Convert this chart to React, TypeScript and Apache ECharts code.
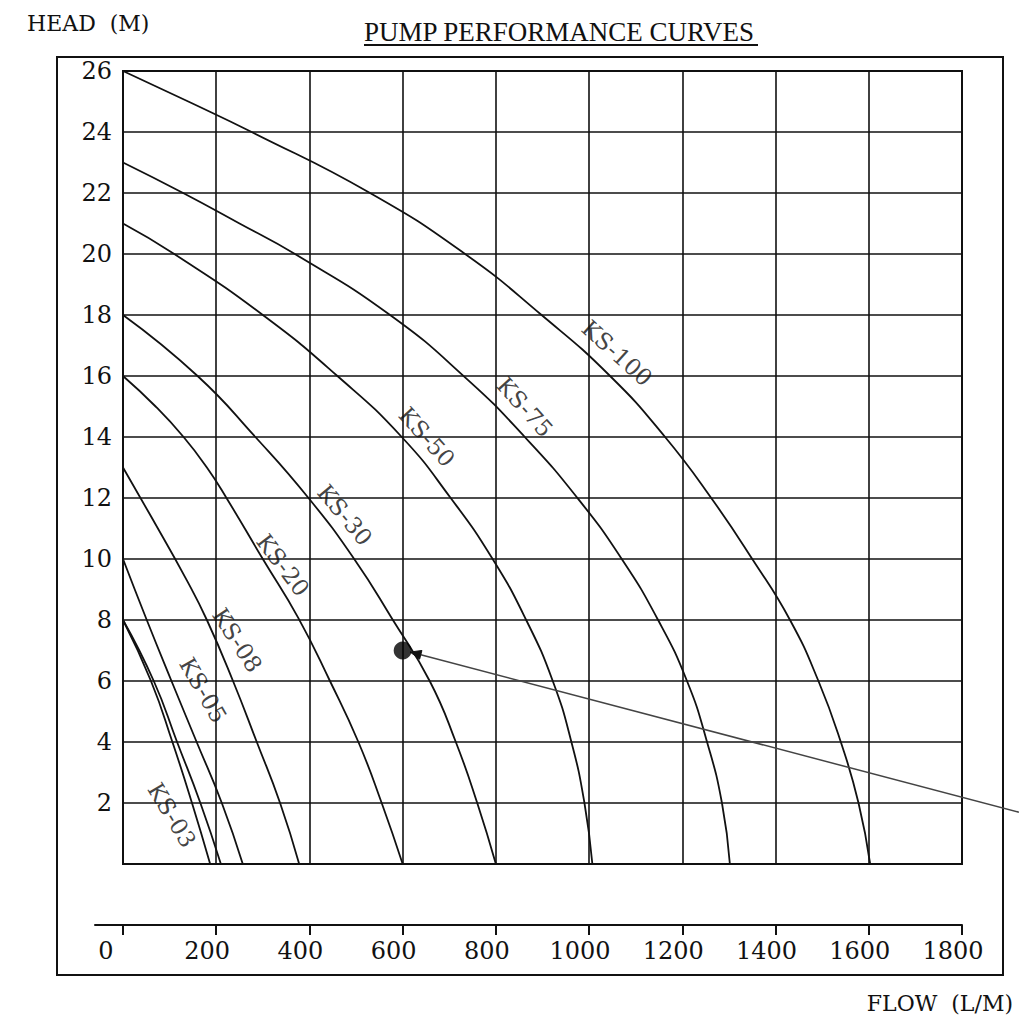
import React, { useEffect, useRef } from "react";
import * as echarts from "echarts";

// ---- data (flow L/M, head M) ----
const FLOW_TICKS = [0, 200, 400, 600, 800, 1000, 1200, 1400, 1600, 1800];

const KS03A = [[0, 8], [60, 6], [106, 4], [148, 2], [187, 0]];
const KS03B = [[0, 8], [66, 6], [116, 4], [166, 2], [210, 0]];
const KS05 = [[0, 10], [51, 8], [104, 6], [158, 4], [212, 2], [257, 0]];
const KS08 = [[0, 13], [60, 11.4], [137, 9.3], [180, 8], [236, 6], [287, 4], [337, 2], [378, 0]];
const KS20 = [[0, 16], [70, 15], [130, 14], [180, 13], [222, 12], [300, 10], [376, 8.07], [444, 6], [505, 4], [555, 2], [600, 0]];
const KS30 = [[0, 18], [160, 16], [284, 14], [398, 12], [496, 10], [579, 8], [658, 6], [714, 4], [760, 2], [800, 0]];
const KS50 = [[0, 21], [110, 20], [300, 18], [460, 16], [598, 14], [703, 12], [793, 10], [865, 8], [922, 6], [962, 4], [990, 2], [1007, 0]];
const KS75 = [[0, 23], [129, 22], [250, 21], [369, 20], [573, 18], [738, 15.9], [862, 14], [975, 12], [1070, 10], [1148, 8], [1210, 6], [1253, 4], [1285, 2], [1302, 0]];
const KS100 = [[0, 26], [140, 25], [276, 24], [530, 22], [734, 20], [898, 18], [1045, 16], [1163, 14], [1262, 12], [1350, 10], [1431, 8], [1492, 6], [1540, 4], [1578, 2], [1603, 0]];

const CURVES = [
  { name: "KS-03", data: KS03A },
  { name: "KS-03b", data: KS03B },
  { name: "KS-05", data: KS05 },
  { name: "KS-08", data: KS08 },
  { name: "KS-20", data: KS20 },
  { name: "KS-30", data: KS30 },
  { name: "KS-50", data: KS50 },
  { name: "KS-75", data: KS75 },
  { name: "KS-100", data: KS100 },
];

// curve labels: text centre (flow, head) and slope angle in degrees
const LABEL_NAMES = ["KS-100", "KS-75", "KS-50", "KS-30", "KS-20", "KS-08", "KS-05", "KS-03"];
const LABEL_POS = [[1060, 16.75], [862, 14.98], [652, 14.0], [476, 11.44], [343, 9.8], [245, 7.34], [172, 5.7], [105, 1.6]];
const LABEL_ANGLE = [42, 48, 48, 50, 53, 57, 60, 59];

const DUTY_POINT = [600, 7];
const ARROW_TIP = [616, 6.95];
const ARROW_TAIL = [1922, 1.7];

const SERIF = "DejaVu Serif";

export default function App() {
  const ref = useRef<HTMLDivElement>(null);

  useEffect(() => {
    if (!ref.current) return;
    const chart = echarts.init(ref.current, null, { renderer: "svg" });

    const curveSeries = CURVES.map((c) => ({
      name: c.name,
      type: "line",
      xAxisIndex: 0,
      yAxisIndex: 0,
      data: c.data,
      smooth: 0.5,
      symbol: "none",
      clip: false,
      lineStyle: { color: "#111", width: 1.8 },
      z: 3,
    }));

    const labelData = LABEL_NAMES.map((n, i) => ({
      name: n,
      value: LABEL_POS[i],
      label: { rotate: -LABEL_ANGLE[i] },
    }));

    const baseGraphic: any[] = [
      {
        type: "rect",
        shape: { x: 57, y: 57, width: 946, height: 918 },
        style: { fill: "transparent", stroke: "#111", lineWidth: 2 },
        z: 1,
      },
      {
        type: "line",
        shape: { x1: 364, y1: 45, x2: 758, y2: 45 },
        style: { stroke: "#111", lineWidth: 2 },
      },
      {
        type: "text",
        left: 27,
        top: 12,
        style: { text: "HEAD  (M)", fontFamily: SERIF, fontSize: 22, fill: "#111" },
      },
      {
        type: "text",
        right: 6,
        top: 992,
        style: { text: "FLOW  (L/M)", fontFamily: SERIF, fontSize: 22, fill: "#111" },
      },
    ];

    const option: any = {
      animation: false,
      backgroundColor: "#ffffff",
      title: {
        text: "PUMP PERFORMANCE CURVES",
        left: 359,
        top: 13,
        textStyle: {
          fontFamily: "Liberation Serif",
          fontSize: 27,
          fontWeight: "normal",
          color: "#111",
        },
      },
      grid: [
        { left: 123, top: 71, width: 839, height: 793, show: true, borderColor: "#111", borderWidth: 2, backgroundColor: "transparent" },
        { left: 95, top: 924, width: 867, height: 1, show: false },
      ],
      xAxis: [
        {
          gridIndex: 0,
          type: "value",
          min: 0,
          max: 1800,
          interval: 200,
          axisLine: { show: false },
          axisTick: { show: false },
          axisLabel: { show: false },
          splitLine: { show: true, lineStyle: { color: "#111", width: 1.6 } },
        },
        {
          gridIndex: 1,
          type: "value",
          min: -60,
          max: 1800,
          position: "bottom",
          axisLine: { show: true, onZero: false, lineStyle: { color: "#111", width: 2 } },
          axisTick: { show: true, customValues: FLOW_TICKS, length: 10, lineStyle: { color: "#111", width: 2 } },
          axisLabel: {
            show: true,
            customValues: FLOW_TICKS,
            margin: 14,
            formatter: (v: number) => (v === 0 ? "{z|0}" : "{n|" + v + "}"),
            rich: {
              z: { fontFamily: SERIF, fontSize: 24, color: "#111", padding: [0, 34, 0, 0] },
              n: { fontFamily: SERIF, fontSize: 24, color: "#111", padding: [0, 18, 0, 0] },
            },
          },
          splitLine: { show: false },
        },
      ],
      yAxis: [
        {
          gridIndex: 0,
          type: "value",
          min: 0,
          max: 26,
          interval: 2,
          axisLine: { show: false },
          axisTick: { show: false },
          axisLabel: {
            formatter: (v: number) => (v === 0 ? "" : String(v)),
            fontFamily: SERIF,
            fontSize: 24,
            color: "#111",
            margin: 11,
          },
          splitLine: { show: true, lineStyle: { color: "#111", width: 1.6 } },
        },
        { gridIndex: 1, type: "value", min: 0, max: 1, show: false },
      ],
      series: [
        ...curveSeries,
        {
          name: "labels",
          type: "scatter",
          xAxisIndex: 0,
          yAxisIndex: 0,
          symbolSize: 0,
          data: labelData,
          z: 4,
          label: {
            show: true,
            position: "inside",
            formatter: "{b}",
            fontFamily: SERIF,
            fontSize: 23,
            color: "#111",
          },
        },
        {
          name: "duty",
          type: "scatter",
          xAxisIndex: 0,
          yAxisIndex: 0,
          data: [DUTY_POINT],
          symbol: "circle",
          symbolSize: 18,
          itemStyle: { color: "#000" },
          clip: false,
          z: 6,
        },
      ],
      graphic: baseGraphic,
    };

    chart.setOption(option);

    // arrow from the outside pointing at the duty point, placed through the axes' scales
    const tip = chart.convertToPixel({ xAxisIndex: 0, yAxisIndex: 0 } as any, ARROW_TIP) as number[];
    const tail = chart.convertToPixel({ xAxisIndex: 0, yAxisIndex: 0 } as any, ARROW_TAIL) as number[];
    if (tip && tail) {
      const dx = tip[0] - tail[0];
      const dy = tip[1] - tail[1];
      const len = Math.sqrt(dx * dx + dy * dy) || 1;
      const ux = dx / len;
      const uy = dy / len;
      const hl = 11;
      const hw = 4.5;
      const bx = tip[0] - ux * hl;
      const by = tip[1] - uy * hl;
      const nx = -uy;
      const ny = ux;
      chart.setOption({
        graphic: [
          ...baseGraphic,
          {
            type: "line",
            shape: { x1: tail[0], y1: tail[1], x2: bx, y2: by },
            style: { stroke: "#444", lineWidth: 1.5 },
            z: 5,
          },
          {
            type: "polygon",
            shape: {
              points: [
                [tip[0], tip[1]],
                [bx + nx * hw, by + ny * hw],
                [bx - nx * hw, by - ny * hw],
              ],
            },
            style: { fill: "#111", stroke: "#111", lineWidth: 1 },
            z: 5,
          },
        ],
      });
    }

    return () => chart.dispose();
  }, []);

  return (
    <div
      ref={ref}
      style={{ position: "absolute", left: 0, top: 0, width: 1019, height: 1034, background: "#fff" }}
    />
  );
}
